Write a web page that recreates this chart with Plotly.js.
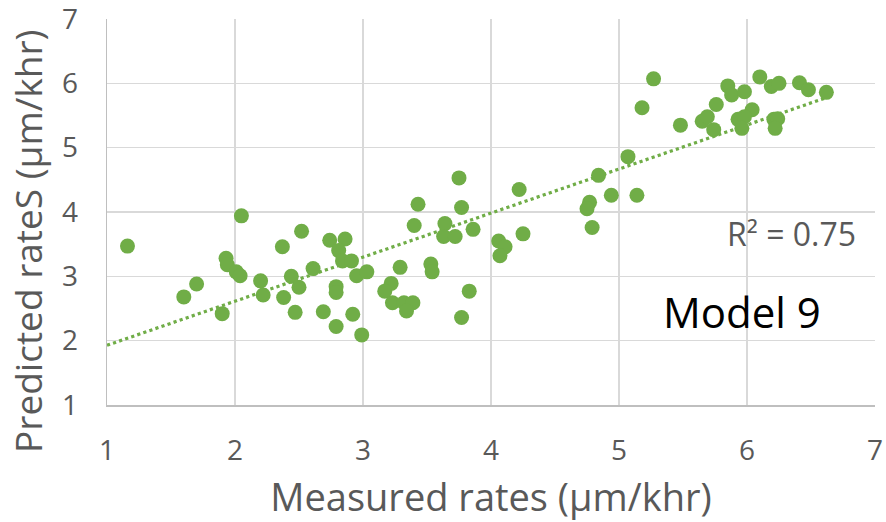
<!DOCTYPE html>
<html>
<head>
<meta charset="utf-8">
<script src="https://cdn.plot.ly/plotly-3.0.1.min.js"></script>
<style>html,body{margin:0;padding:0;background:#fff;}#chart{width:886px;height:522px;}</style>
</head>
<body>
<div id="chart"></div>
<script>
// Measured rates (µm/khr)
const measured = [
  1.16, 2.05, 1.93, 1.94, 2.01, 2.04, 1.70, 1.60, 1.90, 2.20, 2.22,
  2.37, 2.52, 2.44, 2.50, 2.38, 2.47, 2.61, 2.74, 2.86, 2.81, 2.84, 2.91, 2.95, 3.03,
  2.79, 2.79, 2.69, 2.92, 2.79, 2.99,
  3.43, 3.75, 3.77, 3.40, 3.64, 3.63, 3.72, 3.86, 3.29, 3.53, 3.54, 3.22, 3.17,
  3.23, 3.32, 3.39, 3.34, 3.83, 3.77,
  4.22, 4.06, 4.11, 4.07, 4.25,
  5.27, 5.18, 5.48, 5.65, 5.69, 5.76, 5.74, 5.85, 5.88, 5.98, 6.10, 6.19, 6.25,
  6.41, 6.48, 6.62, 6.04, 5.93, 5.98, 5.96, 6.21, 6.24, 6.22,
  5.07, 4.84, 4.94, 5.14, 4.77, 4.75, 4.79
];
// Predicted rates (µm/khr)
const predicted = [
  3.47, 3.94, 3.28, 3.18, 3.07, 3.01, 2.88, 2.68, 2.42, 2.93, 2.71,
  3.46, 3.70, 3.00, 2.83, 2.67, 2.44, 3.12, 3.56, 3.58, 3.40, 3.24, 3.24, 3.01, 3.07,
  2.84, 2.75, 2.45, 2.41, 2.22, 2.09,
  4.12, 4.53, 4.07, 3.79, 3.82, 3.62, 3.62, 3.73, 3.14, 3.19, 3.07, 2.89, 2.77,
  2.59, 2.59, 2.59, 2.46, 2.77, 2.36,
  4.35, 3.55, 3.46, 3.32, 3.66,
  6.07, 5.62, 5.35, 5.41, 5.48, 5.67, 5.28, 5.96, 5.82, 5.87, 6.10, 5.95, 6.00,
  6.01, 5.90, 5.86, 5.59, 5.44, 5.48, 5.30, 5.44, 5.45, 5.30,
  4.86, 4.57, 4.26, 4.26, 4.15, 4.05, 3.76
];
// Linear trendline (slope, intercept) and its x extent
const trendSlope = 0.685;
const trendIntercept = 1.243;
const trendXStart = 1;
const tickValues = [1, 2, 3, 4, 5, 6, 7];
const rSquaredLabel = "R² = 0.75";
const modelLabel = "Model 9";
const xTitle = "Measured rates (µm/khr)";
const yTitle = "Predicted rateS (µm/khr)";

const trendX = [trendXStart, Math.max(...measured)];
const trendY = trendX.map(x => trendIntercept + trendSlope * x);

const green = '#70ad47';
const font = 'Open Sans, sans-serif';
const traces = [
  {x: trendX, y: trendY, mode: 'lines', line: {color: green, width: 3.2, dash: 'dot'}, hoverinfo: 'skip'},
  {x: measured, y: predicted, mode: 'markers', marker: {color: green, size: 15, line: {width: 0}}}
];
const layout = {
  width: 886, height: 522,
  margin: {l: 107, r: 11, t: 18.5, b: 116.5},
  paper_bgcolor: '#fff', plot_bgcolor: '#fff',
  showlegend: false,
  font: {family: font, color: '#595959'},
  xaxis: {
    range: [1, 7], tickmode: 'array', tickvals: tickValues, showgrid: true, gridcolor: '#d9d9d9', gridwidth: 1.5,
    zeroline: false, showline: true, linecolor: '#bfbfbf', linewidth: 1.5, ticks: '',
    tickfont: {size: 28, color: '#595959', family: font}, ticklabelstandoff: 20, ticklabeloverflow: 'allow',
    title: {text: xTitle, font: {size: 38, color: '#595959', family: font}, standoff: 22},
    automargin: false, fixedrange: true
  },
  yaxis: {
    range: [1, 7], tickmode: 'array', tickvals: tickValues, showgrid: true, gridcolor: '#d9d9d9', gridwidth: 1.5,
    zeroline: false, showline: true, linecolor: '#bfbfbf', linewidth: 1.5, ticks: '',
    tickfont: {size: 28, color: '#595959', family: font}, ticklabelstandoff: 22, ticklabeloverflow: 'allow',
    automargin: false, fixedrange: true
  },
  annotations: [
    {x: -0.1029, y: 0.425, xref: 'paper', yref: 'paper', text: yTitle, textangle: -90, showarrow: false,
     xanchor: 'center', yanchor: 'middle', font: {size: 37, color: '#595959', family: font}},
    {x: 6.35, y: 3.67, xref: 'x', yref: 'y', text: rSquaredLabel, showarrow: false, xanchor: 'center', yanchor: 'middle',
     font: {size: 32, color: '#595959', family: font}},
    {x: 5.96, y: 2.45, xref: 'x', yref: 'y', text: modelLabel, showarrow: false, xanchor: 'center', yanchor: 'middle',
     font: {size: 42, color: '#000', family: font}}
  ]
};
Plotly.newPlot('chart', traces, layout, {displayModeBar: false, staticPlot: true});
</script>
</body>
</html>
